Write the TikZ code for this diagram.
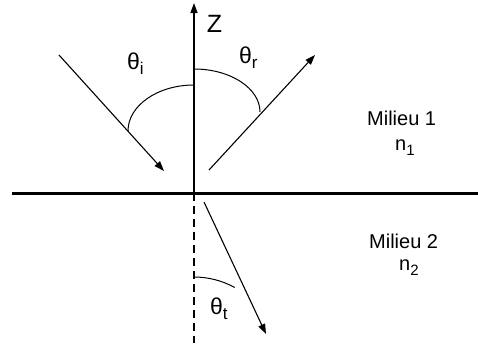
\documentclass[tikz,border=0pt]{standalone}
\usepackage{fontspec}
\setmainfont{Liberation Sans}
\usetikzlibrary{arrows.meta}
\begin{document}
\begin{tikzpicture}[x=1pt,y=-1pt,
  ray/.style={line width=1.1pt,-{Triangle[length=10pt,width=7pt]}},
  anglearc/.style={line width=1pt},
  lbl/.style={inner sep=0pt,anchor=base west},
  big/.style={font=\fontsize{20}{20}\selectfont},
  zfont/.style={font=\fontsize{25}{25}\selectfont}]
\useasboundingbox (0,0) rectangle (478,343);
% axes
\coordinate (O) at (194,193);
\coordinate (Ztop) at (194,3);
\coordinate (Bot) at (194,343);
\coordinate (Hl) at (12,193);
\coordinate (Hr) at (478,193);
\draw[line width=1.5pt,-{Triangle[length=10pt,width=7pt]}] (O) -- (Ztop);
\draw[line width=3pt] (Hl) -- (Hr);
\draw[line width=1.5pt,dash pattern=on 8pt off 5pt] (O) -- (Bot);
\node[zfont,inner sep=0pt] (Z) at (214.5,23.5) {Z};
% rays
\coordinate (Istart) at (59,55);
\coordinate (Iend) at (164,171);
\coordinate (Rstart) at (209,170);
\coordinate (Rend) at (315,55);
\coordinate (Tstart) at (204,202);
\coordinate (Tend) at (266,334);
\draw[ray] (Istart) -- (Iend);
\draw[ray] (Rstart) -- (Rend);
\draw[ray] (Tstart) -- (Tend);
% arcs
\draw[anglearc] (128,131) arc[start angle=180,end angle=270,x radius=66,y radius=46];
\draw[anglearc] (194,69) arc[start angle=90,end angle=0,x radius=66,y radius=-43];
\draw[anglearc] (194,277) arc[start angle=270,end angle=299,radius=84];
% labels
\node[lbl] (ti) at (127,69) {\fontsize{23}{23}\selectfont θ\raisebox{-5pt}{\fontsize{17}{17}\selectfont i}};
\node[lbl] (tr) at (239,63) {\fontsize{23}{23}\selectfont θ\raisebox{-5pt}{\fontsize{17}{17}\selectfont r}};
\node[lbl] (tt) at (210,314) {\fontsize{23}{23}\selectfont θ\raisebox{-5pt}{\fontsize{17}{17}\selectfont t}};
\node[lbl,big] (m1) at (367,125) {Milieu 1};
\node[lbl,big] (n1) at (395,150) {n\raisebox{-5pt}{\fontsize{15}{15}\selectfont 1}};
\node[lbl,big] (m2) at (369,248) {Milieu 2};
\node[lbl,big] (n2) at (399,270) {n\raisebox{-5pt}{\fontsize{15}{15}\selectfont 2}};
\end{tikzpicture}
\end{document}
